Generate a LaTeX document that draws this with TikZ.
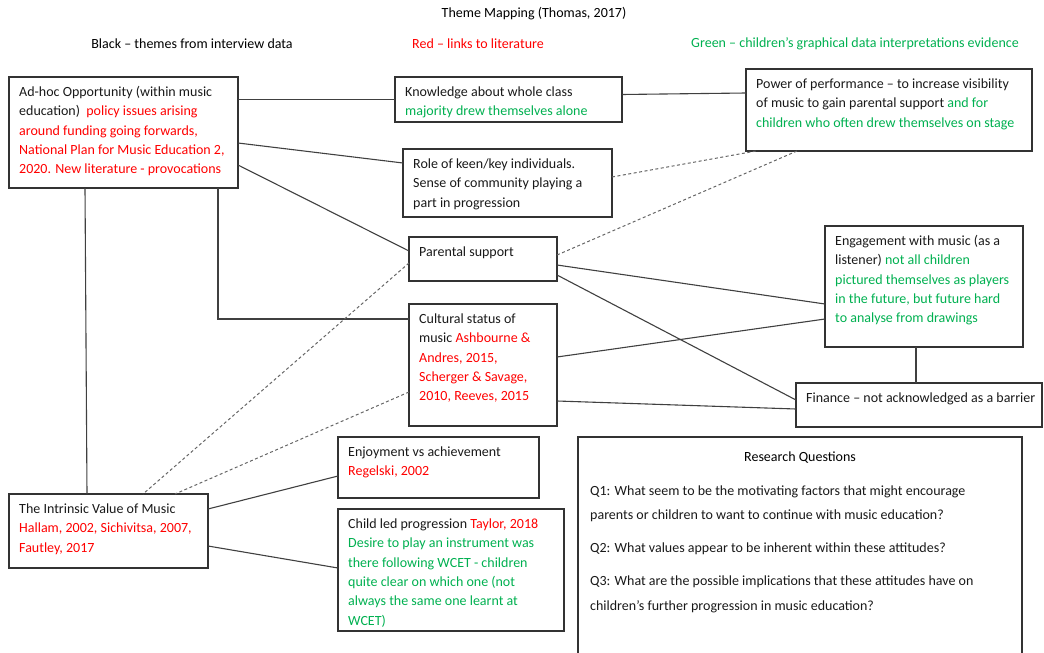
\documentclass[tikz,border=0pt]{standalone}
\usepackage{fontspec}
\setmainfont{Carlito}
\usetikzlibrary{calc}

\definecolor{litred}{HTML}{FF0000}
\definecolor{kidgreen}{HTML}{00B050}
\newcommand{\lit}[1]{\textcolor{litred}{#1}}
\newcommand{\kid}[1]{\textcolor{kidgreen}{#1}}

% frame + text, top left aligned
\newcommand{\themebox}[6]{%
  \node[frame, minimum width=#4pt, minimum height=#5pt] (#1) at (#2,#3) {};
  \node[txt] (#1-t) at ([shift={(10,5.5)}]#1.north west) {\strut #6};}

\begin{document}
\begin{tikzpicture}[
        x=1pt, y=-1pt,
        frame/.style={draw=black!80, line width=1.3pt, inner sep=0pt, outer sep=0pt, anchor=north west},
        txt/.style={anchor=north west, align=left, inner sep=0pt, text=black!90,
                    font=\fontsize{14}{19.4}\selectfont},
        head/.style={inner sep=0pt, font=\fontsize{14}{17}\selectfont},
        link/.style={draw=black!75, line width=1.1pt},
        dlink/.style={draw=black!60, line width=1pt, dash pattern=on 3pt off 2.5pt}
    ]
    \useasboundingbox (0,0) rectangle (1044,653);
    \clip (0,0) rectangle (1044,653);

    % heading and key
    \node[head] (title) at (534,14) {Theme Mapping (Thomas, 2017)};
    \node[head] (key-black) at (192,44) {Black – themes from interview data};
    \node[head, text=litred] (key-red) at (478,44) {Red – links to literature};
    \node[head, text=kidgreen] (key-green) at (855,44) {Green – children’s graphical data interpretations evidence};

    % themes
    \themebox{adhoc}{9}{77}{229}{111}{Ad-hoc Opportunity (within music\\
        education)\ \ \lit{policy issues arising}\\
        \lit{around funding going forwards,}\\
        \lit{National Plan for Music Education 2,}\\
        \lit{2020. New literature - provocations}}
    \themebox{know}{395}{77}{227}{45}{Knowledge about whole class\\
        \kid{majority drew themselves alone}}
    \themebox{role}{403}{149}{209}{68}{Role of keen/key individuals.\\
        Sense of community playing a\\ part in progression}
    \themebox{power}{746}{69}{286}{82}{Power of performance – to increase visibility\\
        of music to gain parental support \kid{and for}\\
        \kid{children who often drew themselves on stage}}
    \themebox{parent}{409}{237}{148}{44}{Parental support}
    \themebox{cult}{409}{304}{148}{122}{Cultural status of\\
        music \lit{Ashbourne \&}\\ \lit{Andres, 2015,}\\
        \lit{Scherger \& Savage,}\\ \lit{2010, Reeves, 2015}}
    \themebox{engage}{825}{226}{198}{121}{Engagement with music (as a\\
        listener) \kid{not all children}\\ \kid{pictured themselves as players}\\
        \kid{in the future, but future hard}\\ \kid{to analyse from drawings}}
    \themebox{finance}{796}{383}{246}{44}{Finance – not acknowledged as a barrier}
    \themebox{enjoy}{338}{437}{201}{61}{Enjoyment vs achievement\\ \lit{Regelski, 2002}}
    \themebox{child}{338}{509}{226}{122}{Child led progression \lit{Taylor, 2018}\\
        \kid{Desire to play an instrument was}\\ \kid{there following WCET - children}\\
        \kid{quite clear on which one (not}\\ \kid{always the same one learnt at}\\
        \kid{WCET)}}
    \themebox{intr}{9}{494}{199}{74}{The Intrinsic Value of Music\\
        \lit{Hallam, 2002, Sichivitsa, 2007,}\\ \lit{Fautley, 2017}}

    % research questions (runs off the bottom)
    \node[frame, minimum width=444pt, minimum height=280pt] (rq) at (578,437) {};
    \node[head, anchor=base] (rq-title) at (800,461) {Research Questions};
    \node[txt, font=\fontsize{14}{24.5}\selectfont] (rq-t) at ([shift={(12,41)}]rq.north west)
        {\strut Q1: What seem to be the motivating factors that might encourage\\
        parents or children to want to continue with music education?\\[8.5pt]
        Q2: What values appear to be inherent within these attitudes?\\[8.5pt]
        Q3: What are the possible implications that these attitudes have on\\
        children’s further progression in music education?};

    % solid links
    \draw[link] (know.west) -- (know.west -| adhoc.east);
    \draw[link] ([yshift=5pt]know.east) -- ([yshift=17pt]power.west);
    \draw[link] ([yshift=-10.5pt]adhoc.east) -- ([yshift=20pt]role.west);
    \draw[link] ([yshift=-32.5pt]adhoc.east) -- ([yshift=8pt]parent.west);
    \draw[link] ([xshift=76pt]adhoc.south west) -- ([xshift=78pt]intr.north west);
    \draw[link] ([xshift=209pt]adhoc.south west) |- ([yshift=-15pt]cult.north west);
    \draw[link] ([yshift=-6pt]parent.east) -- ([yshift=-17.5pt]engage.west);
    \draw[link] ([yshift=-16pt]parent.east) -- ([yshift=5pt]finance.west);
    \draw[link] ([yshift=8pt]cult.east) -- ([yshift=-32.5pt]engage.west);
    \draw[link] ([yshift=-36pt]cult.east) -- ([yshift=-4pt]finance.west);
    \draw[link] ([xshift=-8pt]engage.south) -- ([xshift=-8pt]engage.south |- finance.north);
    \draw[link] ([yshift=22pt]intr.east) -- ([yshift=-8.5pt]enjoy.west);
    \draw[link] ([yshift=-15pt]intr.east) -- ([yshift=2pt]child.west);

    % dashed links
    \draw[dlink] ([yshift=6pt]role.east) -- ([xshift=10pt]power.south west);
    \draw[dlink] ([yshift=4pt]parent.east) -- ([xshift=51pt]power.south west);
    \draw[dlink] ([yshift=-4pt]parent.west) -- ([xshift=134pt]intr.north west);
    \draw[dlink] ([yshift=-27pt]cult.west) -- ([xshift=166pt]intr.north west);
\end{tikzpicture}
\end{document}
